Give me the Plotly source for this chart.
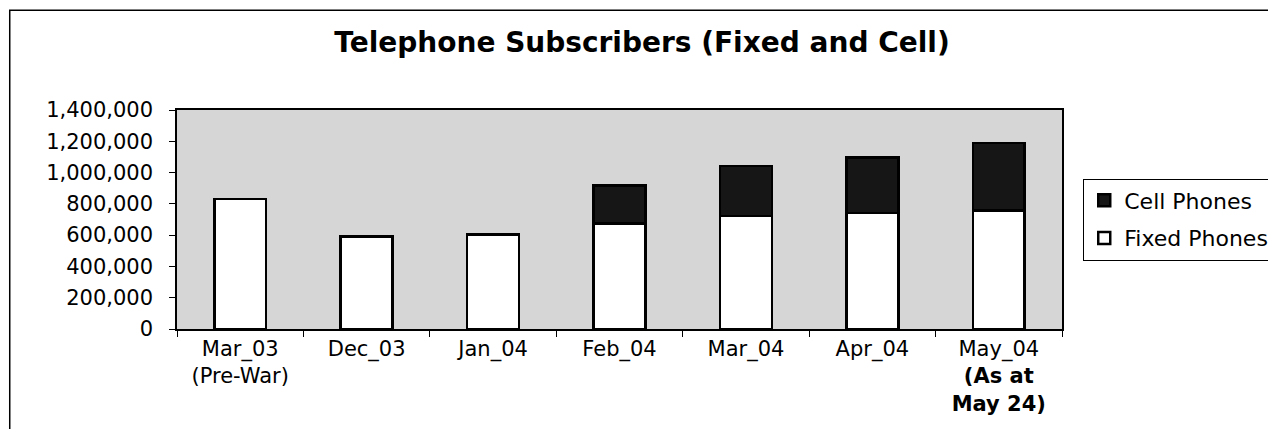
import plotly.graph_objects as go

# values
months = ["Mar_03<br>(Pre-War)", "Dec_03", "Jan_04", "Feb_04", "Mar_04", "Apr_04",
          "May_04<br><b>(As at</b><br><b>May 24)</b>"]
fixed_phones = [832000, 592000, 603000, 676000, 721000, 743000, 757000]
cell_phones = [0, 0, 0, 240000, 320000, 354000, 433000]

fig = go.Figure()
fig.add_trace(go.Bar(
    x=months, y=fixed_phones, name="Fixed Phones",
    legendgroup="fixed", legendrank=2,
    marker=dict(color="#ffffff", line=dict(color="#000000", width=2.5)),
))
fig.add_trace(go.Bar(
    x=months, y=cell_phones, name="Cell Phones",
    legendgroup="cell", legendrank=1,
    marker=dict(color="#161616", line=dict(color="#000000", width=2.5)),
))

# the page body has an 8px margin, so the figure is sized to fit the window
fig.update_layout(
    width=1268, height=421,
    barmode="stack", bargap=0.59,
    margin=dict(l=169, r=214, t=102, b=100, autoexpand=False),
    paper_bgcolor="#ffffff", plot_bgcolor="#d6d6d6",
    font=dict(family="DejaVu Sans", size=21, color="#000000"),
    title=dict(text="<b>Telephone Subscribers (Fixed and Cell)</b>",
               x=0.5, xanchor="center", y=0.919, yanchor="middle",
               font=dict(size=28)),
    showlegend=True,
    legend=dict(x=1.024, xanchor="left", y=0.5, yanchor="middle",
                traceorder="grouped", tracegroupgap=6,
                bgcolor="#ffffff", bordercolor="#000000", borderwidth=1,
                font=dict(size=22), itemwidth=30),
    xaxis=dict(showline=True, linecolor="#000000", linewidth=1.5, mirror=True,
               ticks="outside", tickson="boundaries", ticklen=6,
               tickcolor="#000000", showgrid=False,
               tickfont=dict(size=21)),
    yaxis=dict(range=[0, 1400000], dtick=200000, tickformat=",",
               showline=True, linecolor="#000000", linewidth=1.5, mirror=True,
               ticks="outside", ticklen=6, tickcolor="#000000",
               showgrid=False, zeroline=False, ticklabelstandoff=12),
    shapes=[dict(type="rect", xref="paper", yref="paper",
                 x0=-0.189, x1=1.3, y0=-0.6, y1=1.455,
                 line=dict(color="#000000", width=1.5))],
)

fig.write_html("out.html")
